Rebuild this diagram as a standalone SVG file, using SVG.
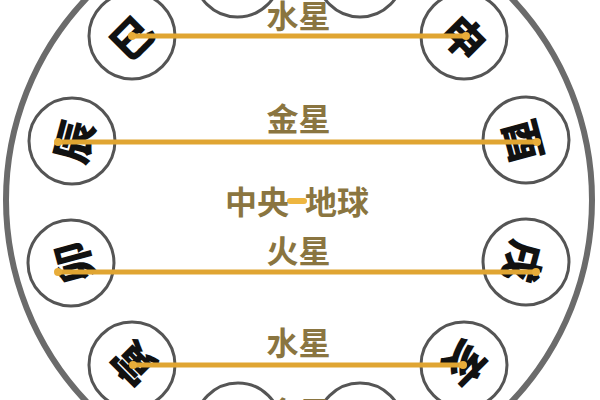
<svg xmlns="http://www.w3.org/2000/svg" width="600" height="400" viewBox="0 0 600 400">
  <style>
    .ring { fill: none; stroke: #6b6b6b; stroke-width: 6; }
    .node circle { fill: #ffffff; stroke: #555555; stroke-width: 3; }
    .node text { font-family: "Noto Sans CJK SC", "Noto Sans CJK TC", sans-serif; font-size: 42px; font-weight: 900; fill: #111111; text-anchor: middle; dominant-baseline: central; }
    .conn line { stroke: #e0a532; stroke-width: 5; stroke-linecap: round; }
    .conn circle { fill: #e8ad3a; }
    .lbl { font-family: "Noto Sans CJK SC", "Noto Sans CJK TC", sans-serif; font-size: 32px; font-weight: 700; fill: #8a7540; text-anchor: middle; }
  </style>
  <rect width="600" height="400" fill="#ffffff"/>
  <circle class="ring" cx="299" cy="200" r="293"/>

  <g id="node-wu" class="node"><circle cx="237.4" cy="-26" r="43"/></g>
  <g id="node-wei" class="node"><circle cx="360" cy="-26" r="43"/></g>
  <g id="node-zi" class="node"><circle cx="360" cy="426" r="43"/></g>
  <g id="node-chou" class="node"><circle cx="238" cy="426" r="43"/></g>

  <g id="node-si" class="node"><circle cx="132" cy="36" r="43"/><text transform="translate(130 36) rotate(-45)">巳</text></g>
  <g id="node-chen" class="node"><circle cx="72" cy="141" r="43"/><text transform="translate(72 141) rotate(-75)">辰</text></g>
  <g id="node-mao" class="node"><circle cx="71" cy="263" r="43"/><text transform="translate(71 263) rotate(-105)">卯</text></g>
  <g id="node-yin" class="node"><circle cx="132" cy="365" r="43"/><text transform="translate(132 365) rotate(-135)">寅</text></g>
  <g id="node-shen" class="node"><circle cx="464" cy="36" r="43"/><text transform="translate(466 36) rotate(45)">申</text></g>
  <g id="node-you" class="node"><circle cx="526" cy="140" r="43"/><text transform="translate(526 140) rotate(75)">酉</text></g>
  <g id="node-xu" class="node"><circle cx="526" cy="262" r="43"/><text transform="translate(526 262) rotate(105)">戌</text></g>
  <g id="node-hai" class="node"><circle cx="464" cy="365" r="43"/><text transform="translate(466 365) rotate(135)">亥</text></g>

  <g id="connectors" class="conn">
    <line x1="132" y1="36" x2="466" y2="36"/>
    <circle cx="132" cy="36" r="4"/><circle cx="466" cy="36" r="4"/>
    <line x1="58" y1="142" x2="537" y2="142"/>
    <circle cx="58" cy="142" r="4"/><circle cx="537" cy="142" r="4"/>
    <line x1="58" y1="272" x2="536" y2="272"/>
    <circle cx="58" cy="272" r="4"/><circle cx="536" cy="272" r="4"/>
    <line x1="133" y1="365" x2="463" y2="365"/>
    <circle cx="133" cy="365" r="4"/><circle cx="463" cy="365" r="4"/>
    <line x1="290" y1="201" x2="304" y2="201" style="stroke:#eeb640;stroke-width:6"/>
  </g>

  <g id="labels">
    <text class="lbl" x="298.5" y="28">水星</text>
    <text class="lbl" x="298.5" y="131">金星</text>
    <text class="lbl" x="289" y="214" style="text-anchor:end">中央</text>
    <text class="lbl" x="305" y="214" style="text-anchor:start">地球</text>
    <text class="lbl" x="298.5" y="263">火星</text>
    <text class="lbl" x="298.5" y="355">水星</text>
    <text class="lbl" x="298.5" y="425">金星</text>
  </g>
</svg>
